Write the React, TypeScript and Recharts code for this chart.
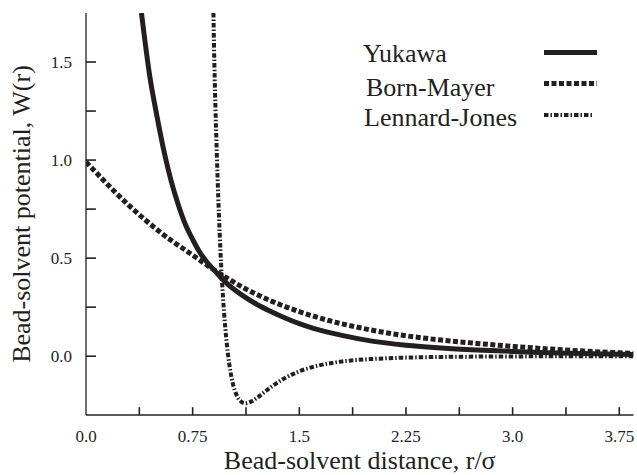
import React from 'react';
import { LineChart, Line, XAxis, YAxis, Legend, ReferenceLine } from 'recharts';

// Yukawa potential
const yukawaR = [0.39, 0.45, 0.5, 0.55, 0.6, 0.65, 0.7, 0.75, 0.8, 0.85, 0.9, 0.95, 1.0, 1.1, 1.2, 1.3, 1.4, 1.5, 1.6, 1.8, 2.0, 2.25, 2.5, 2.75, 3.0, 3.25, 3.5, 3.85];
const yukawaW = [1.75, 1.42, 1.22, 1.04, 0.89, 0.77, 0.67, 0.595, 0.53, 0.48, 0.44, 0.4, 0.365, 0.31, 0.265, 0.228, 0.195, 0.166, 0.142, 0.106, 0.078, 0.056, 0.042, 0.032, 0.024, 0.018, 0.013, 0.009];

// Born-Mayer potential
const bornR = [0, 0.1, 0.2, 0.3, 0.4, 0.5, 0.6, 0.7, 0.8, 0.9, 1.0, 1.1, 1.2, 1.3, 1.4, 1.5, 1.6, 1.7, 1.8, 1.9, 2.0, 2.25, 2.5, 2.75, 3.0, 3.25, 3.5, 3.85];
const bornW = [0.99, 0.915, 0.84, 0.77, 0.705, 0.645, 0.59, 0.54, 0.49, 0.44, 0.395, 0.352, 0.315, 0.282, 0.253, 0.227, 0.204, 0.183, 0.165, 0.149, 0.134, 0.104, 0.082, 0.065, 0.05, 0.037, 0.026, 0.014];

// Lennard-Jones potential
const ljR = [0.896, 0.9, 0.92, 0.94, 0.96, 0.98, 1.0, 1.03, 1.06, 1.09, 1.12, 1.16, 1.2, 1.25, 1.3, 1.4, 1.5, 1.6, 1.8, 2.0, 2.25, 2.5, 3.0, 3.5, 3.85];
const ljW = [1.75, 1.59, 1.03, 0.626, 0.34, 0.14, 0, -0.131, -0.2, -0.231, -0.24, -0.232, -0.214, -0.186, -0.158, -0.111, -0.077, -0.054, -0.027, -0.015, -0.0074, -0.0039, -0.0013, -0.0005, -0.0003];

const seriesNames = ['Yukawa', 'Born-Mayer', 'Lennard-Jones'];

const xTicks = [0, 0.375, 0.75, 1.125, 1.5, 1.875, 2.25, 2.625, 3.0, 3.375, 3.75];
const xTickLabels = ['0.0', '', '0.75', '', '1.5', '', '2.25', '', '3.0', '', '3.75'];
const yTicks = [0, 0.25, 0.5, 0.75, 1.0, 1.25, 1.5];
const yTickLabels = ['0.0', '', '0.5', '', '1.0', '', '1.5'];

const xTitle = 'Bead-solvent distance, r/\u03C3';
const yTitle = 'Bead-solvent potential, W(r)';

const X_DOMAIN: [number, number] = [0, 3.85];
const Y_DOMAIN: [number, number] = [-0.3, 1.75];

const CHART_W = 637;
const CHART_H = 475;
const MARGIN = { top: 13, right: 3.5, bottom: 0, left: 0 };
const Y_AXIS_W = 86;
const X_AXIS_H = 60;
const AXIS_X = MARGIN.left + Y_AXIS_W;
const AXIS_Y = CHART_H - MARGIN.bottom - X_AXIS_H;

const INK = '#231f20';
const FONT = '"Liberation Serif", "Times New Roman", Times, serif';

const toRows = (rs: number[], ws: number[]) => rs.map((r, i) => ({ r, w: ws[i] }));
const seriesData = [toRows(yukawaR, yukawaW), toRows(bornR, bornW), toRows(ljR, ljW)];

const seriesStyle = [
  { strokeWidth: 5, dash: undefined as string | undefined },
  { strokeWidth: 5, dash: '5 2.5' },
  { strokeWidth: 4, dash: '4.5 2 1.5 2' },
];

// inward tick-mark lengths expressed in axis units (~8px / ~10px)
const X_TICK_LEN = 0.04;
const Y_TICK_LEN = 0.07;

const labelFor = (ticks: number[], labels: string[], v: number) => {
  const i = ticks.findIndex((t) => Math.abs(t - v) < 1e-6);
  return i >= 0 ? labels[i] : '';
};

const renderXTick = (p: any) => {
  const x = Number(p.x);
  const label = labelFor(xTicks, xTickLabels, Number(p.payload.value));
  if (!label) return <g />;
  return (
    <text x={x} y={AXIS_Y + 27} textAnchor="middle" fontSize={17} fontFamily={FONT} fill={INK}>
      {label}
    </text>
  );
};

const renderYTick = (p: any) => {
  const y = Number(p.y);
  const label = labelFor(yTicks, yTickLabels, Number(p.payload.value));
  if (!label) return <g />;
  return (
    <text x={AXIS_X - 14} y={y + 6} textAnchor="end" fontSize={17} fontFamily={FONT} fill={INK}>
      {label}
    </text>
  );
};

const legendRows = [
  { textX: 363, baseline: 62, lineY: 52.5, x2: 597 },
  { textX: 366, baseline: 96, lineY: 83.5, x2: 597 },
  { textX: 364, baseline: 126, lineY: 115, x2: 593 },
];

const LegendContent = () => (
  <svg width={CHART_W} height={140} style={{ display: 'block' }}>
    {seriesNames.map((name, i) => (
      <g key={name}>
        <text x={legendRows[i].textX} y={legendRows[i].baseline} fontSize={26} fontFamily={FONT} fill={INK}>
          {name}
        </text>
        <line
          x1={544}
          x2={legendRows[i].x2}
          y1={legendRows[i].lineY}
          y2={legendRows[i].lineY}
          stroke={INK}
          strokeWidth={seriesStyle[i].strokeWidth}
          strokeDasharray={seriesStyle[i].dash}
        />
      </g>
    ))}
  </svg>
);

const YTitle = () => {
  const cx = 30;
  const cy = (MARGIN.top + AXIS_Y) / 2;
  return (
    <text x={cx} y={cy} transform={`rotate(-90, ${cx}, ${cy})`} textAnchor="middle" fontSize={26} fontFamily={FONT} fill={INK}>
      {yTitle}
    </text>
  );
};

const XTitle = () => {
  const cx = (AXIS_X + CHART_W - MARGIN.right) / 2;
  return (
    <text x={cx} y={AXIS_Y + 54} textAnchor="middle" fontSize={26} fontFamily={FONT} fill={INK}>
      {xTitle}
    </text>
  );
};

export default function App() {
  return (
    <div style={{ position: 'fixed', left: 0, top: 0, width: CHART_W, height: CHART_H, background: '#fff' }}>
      <LineChart width={CHART_W} height={CHART_H} margin={MARGIN}>
        <XAxis
          dataKey="r"
          type="number"
          domain={X_DOMAIN}
          ticks={xTicks}
          interval={0}
          allowDataOverflow
          height={X_AXIS_H}
          tickSize={0}
          tickMargin={0}
          tick={renderXTick}
          axisLine={{ stroke: INK, strokeWidth: 1.3 }}
          tickLine={false}
          label={<XTitle />}
        />
        <XAxis
          xAxisId="top"
          orientation="top"
          type="number"
          domain={X_DOMAIN}
          height={0}
          tick={false}
          tickLine={false}
          axisLine={{ stroke: INK, strokeWidth: 1.3 }}
        />
        <YAxis
          type="number"
          domain={Y_DOMAIN}
          ticks={yTicks}
          interval={0}
          allowDataOverflow
          width={Y_AXIS_W}
          tickSize={0}
          tickMargin={14}
          tick={renderYTick}
          axisLine={{ stroke: INK, strokeWidth: 1.3 }}
          tickLine={false}
          label={<YTitle />}
        />
        <YAxis
          yAxisId="right"
          orientation="right"
          type="number"
          domain={Y_DOMAIN}
          width={0}
          tick={false}
          tickLine={false}
          axisLine={{ stroke: INK, strokeWidth: 1.3 }}
        />
        {xTicks.slice(1).map((t) => (
          <ReferenceLine
            key={`xt${t}`}
            segment={[
              { x: t, y: Y_DOMAIN[0] },
              { x: t, y: Y_DOMAIN[0] + X_TICK_LEN },
            ]}
            stroke={INK}
            strokeWidth={1.6}
            ifOverflow="visible"
          />
        ))}
        {yTicks.map((t) => (
          <ReferenceLine
            key={`yt${t}`}
            segment={[
              { x: X_DOMAIN[0], y: t },
              { x: X_DOMAIN[0] + Y_TICK_LEN, y: t },
            ]}
            stroke={INK}
            strokeWidth={1.6}
            ifOverflow="visible"
          />
        ))}
        <Legend
          layout="vertical"
          align="center"
          verticalAlign="middle"
          content={<LegendContent />}
          wrapperStyle={{ position: 'absolute', left: 0, top: 0, width: CHART_W, height: 140, pointerEvents: 'none' }}
        />
        {seriesNames.map((name, i) => (
          <Line
            key={name}
            name={name}
            data={seriesData[i]}
            dataKey="w"
            type="monotone"
            stroke={INK}
            strokeWidth={seriesStyle[i].strokeWidth}
            strokeDasharray={seriesStyle[i].dash}
            dot={false}
            activeDot={false}
            isAnimationActive={false}
          />
        ))}
      </LineChart>
    </div>
  );
}
